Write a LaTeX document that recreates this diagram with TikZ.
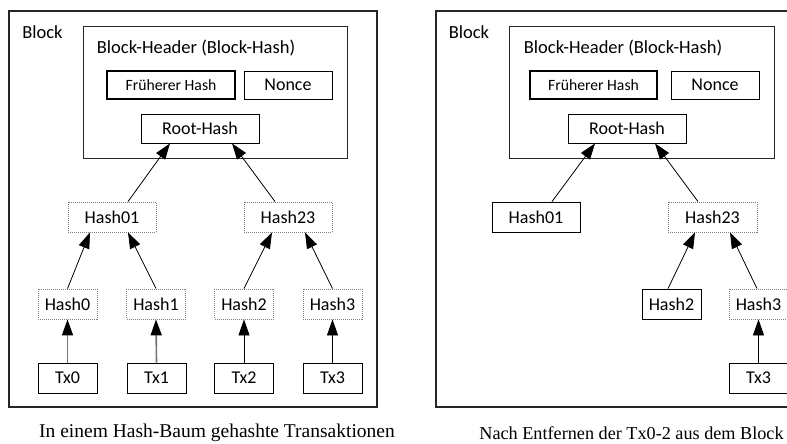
\documentclass[tikz,border=0pt]{standalone}
\usepackage{fontspec}
\setmainfont{Carlito}
\newfontfamily\capfont{Liberation Serif}
\usetikzlibrary{arrows.meta}
\begin{document}
\begin{tikzpicture}[x=1pt,y=-1pt,
  box/.style={draw=black, line width=0.8pt, rectangle, inner sep=0pt, minimum height=30pt, font=\fontsize{18}{20}\selectfont},
  dbox/.style={box, draw=gray, dash pattern=on 1pt off 1pt},
  frame/.style={draw=black!85, line width=1.2pt, rectangle, inner sep=0pt},
  lbl/.style={inner sep=0pt, font=\fontsize{18.5}{20}\selectfont},
  captext/.style={inner sep=0pt, font=\capfont\fontsize{19.5}{22}\selectfont},
  arr/.style={-{Triangle[length=16pt,width=11pt]}, line width=0.8pt, draw=black},
  garr/.style={draw=black!55, line width=1.6pt, -{Triangle[length=16pt,width=11pt,black]}}
]
\useasboundingbox (0,0) rectangle (787,444);
\clip (0,0) rectangle (787,444);

% ---------- left panel ----------
\node[frame, minimum width=368pt, minimum height=396pt] (outerL) at (193,209) {};
\node[lbl] (blkL) at (42.5,32) {Block};
\node[frame, line width=0.9pt, minimum width=264pt, minimum height=132pt] (headL) at (215,92) {};
\node[lbl] (headtL) at (196,48) {Block-Header (Block-Hash)};
\node[box, line width=1.8pt, minimum width=128pt, minimum height=28pt, font=\fontsize{15.7}{18}\selectfont] (fhL) at (171,85) {Früherer Hash};
\node[box, minimum width=88pt, minimum height=28pt] (nonceL) at (288,85) {Nonce};
\node[box, minimum width=118pt, minimum height=29pt] (rootL) at (200,128.5) {Root-Hash};
\node[dbox, minimum width=88pt] (h01L) at (112,217) {Hash01};
\node[dbox, minimum width=88pt] (h23L) at (288,217) {Hash23};
\node[dbox, minimum width=59pt] (h0L) at (67.5,304) {Hash0};
\node[dbox, minimum width=59pt] (h1L) at (156,304) {Hash1};
\node[dbox, minimum width=59pt] (h2L) at (244,304) {Hash2};
\node[dbox, minimum width=59pt] (h3L) at (332.5,304) {Hash3};
\node[box, minimum width=59pt] (tx0L) at (67.5,378) {Tx0};
\node[box, minimum width=59pt] (tx1L) at (156.5,378) {Tx1};
\node[box, minimum width=59pt] (tx2L) at (244,378) {Tx2};
\node[box, minimum width=59pt] (tx3L) at (332.5,378) {Tx3};
\node[captext] (capL) at (217,433) {In einem Hash-Baum gehashte Transaktionen};

\draw[garr] (tx0L.north) -- (h0L.south);
\draw[garr] (tx1L.north) -- (h1L.south);
\draw[arr] (tx2L.north) -- (h2L.south);
\draw[arr] (tx3L.north) -- (h3L.south);
\draw[arr] (h0L.north) -- ([xshift=-22pt]h01L.south);
\draw[arr] (h1L.north) -- ([xshift=16pt]h01L.south);
\draw[arr] (h2L.north) -- ([xshift=-16pt]h23L.south);
\draw[arr] (h3L.north) -- ([xshift=17pt]h23L.south);
\draw[arr] ([xshift=16pt]h01L.north) -- ([xshift=-30pt]rootL.south);
\draw[arr] ([xshift=-13pt]h23L.north) -- ([xshift=32pt]rootL.south);

% ---------- right panel ----------
\node[frame, minimum width=380pt, minimum height=396pt] (outerR) at (626,209) {};
\node[lbl] (blkR) at (469,32) {Block};
\node[frame, line width=0.9pt, minimum width=265pt, minimum height=132pt] (headR) at (641.5,92) {};
\node[lbl] (headtR) at (623,48) {Block-Header (Block-Hash)};
\node[box, line width=1.8pt, minimum width=127pt, minimum height=28pt, font=\fontsize{15.7}{18}\selectfont] (fhR) at (593.5,85) {Früherer Hash};
\node[box, minimum width=88pt, minimum height=28pt] (nonceR) at (715,85) {Nonce};
\node[box, minimum width=118pt, minimum height=29pt] (rootR) at (627,128.5) {Root-Hash};
\node[box, minimum width=88pt] (h01R) at (536,217) {Hash01};
\node[dbox, minimum width=89pt] (h23R) at (712.5,217) {Hash23};
\node[box, minimum width=59pt] (h2R) at (671.5,304) {Hash2};
\node[dbox, minimum width=59pt] (h3R) at (758.5,304) {Hash3};
\node[box, minimum width=59pt] (tx3R) at (758.5,378) {Tx3};
\node[captext, font=\capfont\fontsize{18.2}{22}\selectfont] (capR) at (631.5,433) {Nach Entfernen der Tx0-2 aus dem Block};

\draw[arr] (tx3R.north) -- (h3R.south);
\draw[arr] ([xshift=-3.5pt]h2R.north) -- ([xshift=-17.5pt]h23R.south);
\draw[arr] ([xshift=-1.5pt]h3R.north) -- ([xshift=17.5pt]h23R.south);
\draw[arr] ([xshift=16pt]h01R.north) -- ([xshift=-32pt]rootR.south);
\draw[arr] ([xshift=-14.5pt]h23R.north) -- ([xshift=28pt]rootR.south);
\end{tikzpicture}
\end{document}
